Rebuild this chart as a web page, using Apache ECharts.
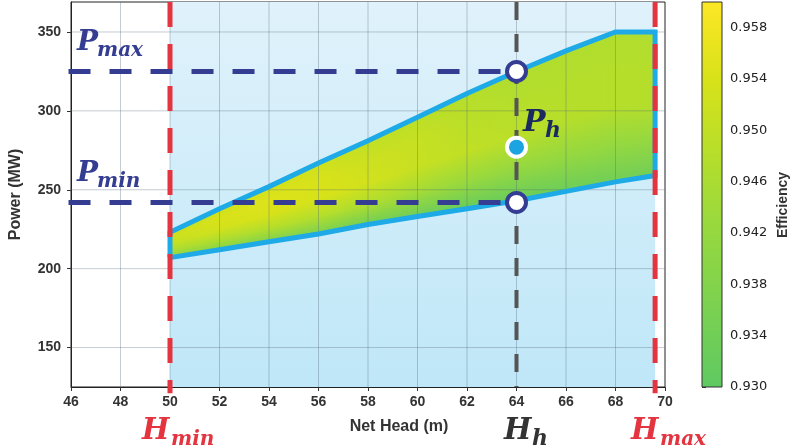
<!DOCTYPE html>
<html>
<head>
<meta charset="utf-8">
<script src="https://cdn.jsdelivr.net/npm/echarts@6/dist/echarts.min.js"></script>
<style>
  html, body { margin: 0; padding: 0; background: #fff; }
  #main { width: 796px; height: 447px; }
</style>
</head>
<body>
<div id="main"></div>
<script>
// operating zone
var heads = [50, 52, 54, 56, 58, 60, 62, 64, 66, 68, 69.6];
var upperPower = [223, 238, 252, 267, 281, 296, 311, 325, 338, 350, 350];
var lowerPower = [207, 212, 217, 222, 228, 233, 238, 243, 249, 255, 259];
// fraction of the band from lower to upper limit
var bandLevels = [0, 0.25, 0.5, 0.75, 1];
// efficiency at each head (rows) and band level (columns)
var efficiency = [
  [0.939, 0.946, 0.950, 0.952, 0.951],
  [0.938, 0.947, 0.953, 0.954, 0.952],
  [0.937, 0.948, 0.954, 0.955, 0.953],
  [0.936, 0.948, 0.954, 0.954, 0.952],
  [0.934, 0.947, 0.953, 0.952, 0.950],
  [0.933, 0.945, 0.951, 0.951, 0.949],
  [0.932, 0.943, 0.950, 0.949, 0.948],
  [0.932, 0.942, 0.949, 0.948, 0.947],
  [0.933, 0.942, 0.948, 0.948, 0.947],
  [0.934, 0.942, 0.948, 0.948, 0.947],
  [0.934, 0.942, 0.948, 0.948, 0.947]
];

var xTicks = [46, 48, 50, 52, 54, 56, 58, 60, 62, 64, 66, 68, 70];
var yTicks = [150, 200, 250, 300, 350];
var effTicks = [0.930, 0.934, 0.938, 0.942, 0.946, 0.950, 0.954, 0.958];
var effRange = [0.930, 0.960];

var hMin = 50, hMax = 69.6, hH = 64;
var pMin = 242, pMax = 325, pH = 277;

var xRange = [46, 70];
var yRange = [125, 369];

var palette = ['#5ec962', '#7ad151', '#95d840', '#b5de2b', '#d8e219', '#fde725'];
var paletteRgb = palette.map(function (c) {
  return [parseInt(c.substr(1, 2), 16), parseInt(c.substr(3, 2), 16), parseInt(c.substr(5, 2), 16)];
});

function effColor(v) {
  var t = (v - effRange[0]) / (effRange[1] - effRange[0]);
  t = Math.max(0, Math.min(1, t));
  var s = t * (paletteRgb.length - 1);
  var i = Math.min(Math.floor(s), paletteRgb.length - 2);
  var f = s - i;
  var a = paletteRgb[i], b = paletteRgb[i + 1];
  return 'rgb(' + Math.round(a[0] + (b[0] - a[0]) * f) + ',' +
    Math.round(a[1] + (b[1] - a[1]) * f) + ',' +
    Math.round(a[2] + (b[2] - a[2]) * f) + ')';
}

var chart = echarts.init(document.getElementById('main'));

// light blue operating range between Hmin and Hmax
function renderZone(params, api) {
  var p0 = api.coord([api.value(0), yRange[1]]);
  var p1 = api.coord([api.value(1), yRange[0]]);
  return {
    type: 'rect',
    shape: { x: p0[0], y: p0[1], width: p1[0] - p0[0], height: p1[1] - p0[1] },
    style: {
      fill: new echarts.graphic.LinearGradient(0, 0, 0, 1, [
        { offset: 0, color: '#e0f2fb' },
        { offset: 1, color: '#bfe7f8' }
      ])
    }
  };
}

// efficiency map between lower and upper power limit, shaded in thin strips
function renderEff(params, api) {
  var i = api.value(0);
  var steps = 12;
  var children = [];
  for (var k = 0; k < steps; k++) {
    var t0 = k / steps, t1 = (k + 1) / steps, tm = (k + 0.5) / steps;
    var dh = heads[i + 1] - heads[i];
    var h0 = heads[i] + dh * t0, h1 = heads[i] + dh * t1, hm = heads[i] + dh * tm;
    var lo = function (t) { return lowerPower[i] + (lowerPower[i + 1] - lowerPower[i]) * t; };
    var up = function (t) { return upperPower[i] + (upperPower[i + 1] - upperPower[i]) * t; };
    var a = api.coord([h0, lo(t0)]), b = api.coord([h1, lo(t1)]);
    var c = api.coord([h1, up(t1)]), d = api.coord([h0, up(t0)]);
    // small overlap so strips do not leave seams
    var ext = k < steps - 1 || i < heads.length - 2 ? 0.8 : 0;
    b[0] += ext; c[0] += ext;
    var pTop = api.coord([hm, up(tm)]), pBot = api.coord([hm, lo(tm)]);
    var stops = [];
    for (var j = bandLevels.length - 1; j >= 0; j--) {
      var v = efficiency[i][j] * (1 - tm) + efficiency[i + 1][j] * tm;
      stops.push({ offset: 1 - bandLevels[j], color: effColor(v) });
    }
    children.push({
      type: 'polygon',
      shape: { points: [a, b, c, d] },
      style: { fill: new echarts.graphic.LinearGradient(0, pTop[1], 0, pBot[1], stops, true) }
    });
  }
  return { type: 'group', children: children };
}

function renderGrid(params, api) {
  var dir = api.value(0), v = api.value(1);
  var p0, p1;
  if (dir === 0) { p0 = api.coord([v, yRange[0]]); p1 = api.coord([v, yRange[1]]); }
  else { p0 = api.coord([xRange[0], v]); p1 = api.coord([xRange[1], v]); }
  return {
    type: 'line',
    shape: { x1: p0[0], y1: p0[1], x2: p1[0], y2: p1[1] },
    style: { stroke: 'rgba(80,100,115,0.33)', lineWidth: 1 }
  };
}

function renderColorbar(params, api) {
  var p0 = api.coord([0, effRange[1]]);
  var p1 = api.coord([1, effRange[0]]);
  var stops = palette.map(function (c, k) {
    return { offset: 1 - k / (palette.length - 1), color: c };
  }).reverse();
  return {
    type: 'rect',
    shape: { x: p0[0], y: p0[1], width: p1[0] - p0[0], height: p1[1] - p0[1] },
    style: {
      fill: new echarts.graphic.LinearGradient(0, 0, 0, 1, stops),
      stroke: '#333', lineWidth: 1
    }
  };
}

var gridData = [];
xTicks.slice(1, -1).forEach(function (v) { gridData.push([0, v]); });
yTicks.forEach(function (v) { gridData.push([1, v]); });

var outline = [];
heads.forEach(function (h, k) { outline.push([h, lowerPower[k]]); });
for (var k = heads.length - 1; k >= 0; k--) outline.push([heads[k], upperPower[k]]);
outline.push([heads[0], lowerPower[0]]);

var tickFont = { fontFamily: 'Liberation Sans', fontWeight: 'bold', fontSize: 14, color: '#333' };
var serif = '"DejaVu Serif", serif';

function dashed(data, color, width, dash) {
  return {
    type: 'line', data: data, z: 5, clip: false, silent: true,
    symbol: 'none', showSymbol: false,
    lineStyle: { color: color, width: width, type: dash, cap: 'butt' }
  };
}

function mathText(x, baseline, main, subText, color, size, subSize, subDx) {
  return [
    {
      type: 'text', x: x, y: baseline - 0.3 * size, z: 20,
      style: {
        text: main, fill: color, fontFamily: serif, fontStyle: 'italic', fontWeight: 'bold',
        fontSize: size, textAlign: 'left', textVerticalAlign: 'middle'
      }
    },
    {
      type: 'text', x: x + subDx, y: baseline + 6 - 0.3 * subSize, z: 20,
      style: {
        text: subText, fill: color, fontFamily: serif, fontStyle: 'italic', fontWeight: 'bold',
        fontSize: subSize, textAlign: 'left', textVerticalAlign: 'middle'
      }
    }
  ];
}

var navy = '#343d91';
var red = '#e3343f';

var graphics = []
  .concat(mathText(77, 51, 'P', 'max', navy, 28, 20, 20))
  .concat(mathText(77, 182, 'P', 'min', navy, 28, 20, 20))
  .concat(mathText(523, 132, 'P', 'h', '#1b2b5f', 30, 22, 22))
  .concat(mathText(142, 440, 'H', 'min', red, 29, 20, 29))
  .concat(mathText(504, 440, 'H', 'h', '#333', 29, 22, 28))
  .concat(mathText(631, 440, 'H', 'max', red, 29, 20, 29));

graphics.push({
  type: 'text', x: 399, y: 427, z: 20,
  style: {
    text: 'Net Head (m)', fill: '#333', fontFamily: 'Liberation Sans', fontWeight: 'bold',
    fontSize: 16, textAlign: 'center', textVerticalAlign: 'middle'
  }
});
graphics.push({
  type: 'text', x: 783, y: 205, z: 20, rotation: Math.PI / 2,
  style: {
    text: 'Efficiency', fill: '#333', fontFamily: 'Liberation Sans', fontWeight: 'bold',
    fontSize: 14, textAlign: 'center', textVerticalAlign: 'middle'
  }
});

var option = {
  animation: false,
  backgroundColor: '#fff',
  grid: [
    { left: 65, top: 2, width: 600, height: 385, show: true, borderColor: '#222', borderWidth: 1 },
    { left: 702, top: 2, width: 20, height: 385 }
  ],
  xAxis: [
    {
      type: 'value', gridIndex: 0, min: xRange[0], max: xRange[1], interval: 2,
      axisLine: { show: true, onZero: false, lineStyle: { color: '#222' } },
      axisTick: { show: true, length: 4, lineStyle: { color: '#333' } },
      axisLabel: Object.assign({ margin: 8 }, tickFont),
      splitLine: { show: false }
    },
    { type: 'value', gridIndex: 1, min: 0, max: 1, show: false }
  ],
  yAxis: [
    {
      type: 'value', gridIndex: 0, min: yRange[0], max: yRange[1],
      name: 'Power (MW)', nameLocation: 'middle', nameGap: 47, nameRotate: 90,
      nameTextStyle: { fontFamily: 'Liberation Sans', fontWeight: 'bold', fontSize: 16, color: '#333' },
      axisLine: { show: true, onZero: false, lineStyle: { color: '#222' } },
      axisTick: { show: true, length: 4, customValues: yTicks, lineStyle: { color: '#333' } },
      axisLabel: Object.assign({ margin: 10, customValues: yTicks }, tickFont),
      splitLine: { show: false }
    },
    {
      type: 'value', gridIndex: 1, position: 'right', min: effRange[0], max: effRange[1],
      axisLine: { show: false },
      axisTick: { show: true, length: 4, customValues: effTicks, lineStyle: { color: '#333' } },
      axisLabel: {
        customValues: effTicks, margin: 8, fontFamily: 'DejaVu Sans', fontSize: 13, color: '#222',
        formatter: function (v) { return v.toFixed(3); }
      },
      splitLine: { show: false }
    }
  ],
  series: [
    {
      type: 'custom', z: 1, silent: true, xAxisIndex: 0, yAxisIndex: 0,
      data: [[hMin, hMax]], renderItem: renderZone
    },
    {
      type: 'custom', z: 2, silent: true, xAxisIndex: 0, yAxisIndex: 0,
      data: heads.slice(0, -1).map(function (h, k) { return [k]; }),
      renderItem: renderEff
    },
    {
      type: 'custom', z: 3, silent: true, xAxisIndex: 0, yAxisIndex: 0,
      data: gridData, renderItem: renderGrid
    },
    {
      type: 'line', z: 4, silent: true, data: outline, symbol: 'none', showSymbol: false,
      lineStyle: { color: '#1daae6', width: 5, join: 'miter' }
    },
    dashed([[hMin, yRange[1]], [hMin, 121]], red, 5, [25, 17]),
    dashed([[hMax, yRange[1]], [hMax, 121]], red, 5, [25, 17]),
    dashed([[hH, yRange[1]], [hH, yRange[0]]], '#555', 4, [18, 14]),
    dashed([[45.9, pMax], [hH, pMax]], navy, 5, [22, 19]),
    dashed([[45.9, pMin], [hH, pMin]], navy, 5, [22, 19]),
    {
      type: 'scatter', z: 6, silent: true, data: [[hH, pMax], [hH, pMin]],
      symbol: 'circle', symbolSize: 19,
      itemStyle: { color: '#fff', borderColor: navy, borderWidth: 4, opacity: 1 }
    },
    {
      type: 'scatter', z: 6, silent: true, data: [[hH, pH]],
      symbol: 'circle', symbolSize: 19,
      itemStyle: { color: '#1ba3e2', borderColor: '#fff', borderWidth: 4, opacity: 1 }
    },
    {
      type: 'custom', silent: true, xAxisIndex: 1, yAxisIndex: 1,
      data: [[0]], renderItem: renderColorbar
    }
  ],
  graphic: graphics
};

chart.setOption(option);
</script>
</body>
</html>
